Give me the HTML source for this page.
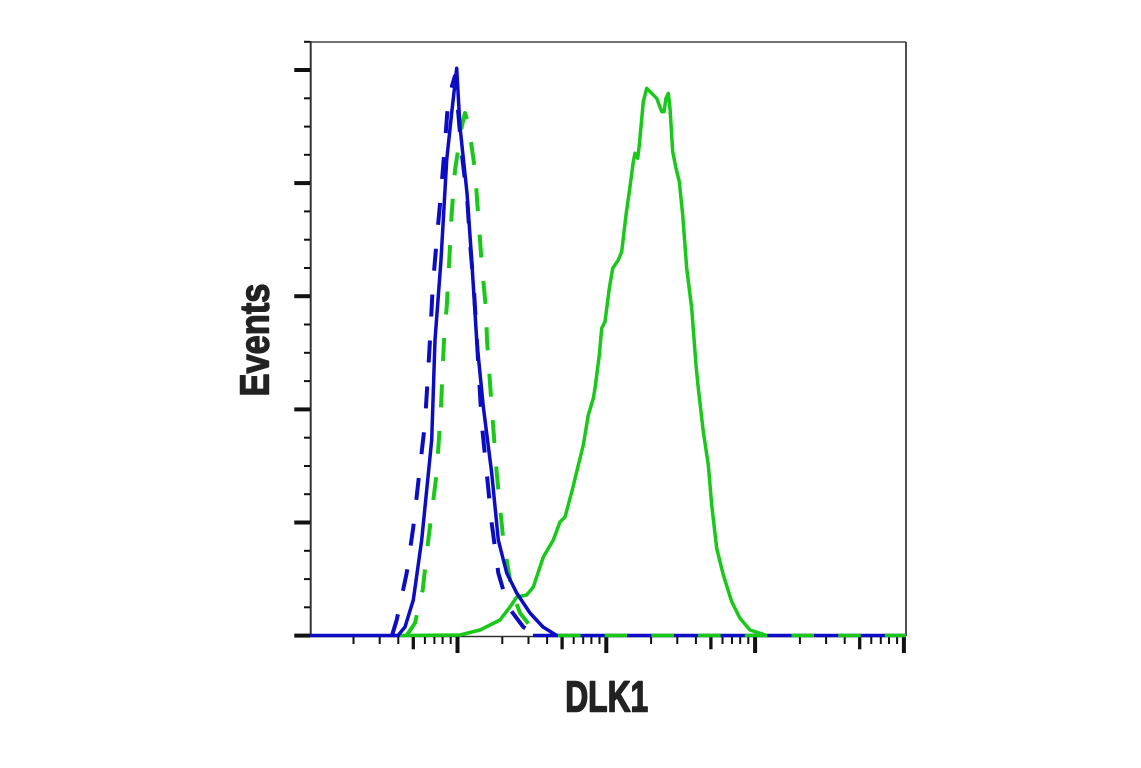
<!DOCTYPE html>
<html>
<head>
<meta charset="utf-8">
<style>
  html, body { margin: 0; padding: 0; background: #ffffff; }
  svg { display: block; }
</style>
</head>
<body>
<svg width="1141" height="768" viewBox="0 0 1141 768" xmlns="http://www.w3.org/2000/svg">
  <rect width="1141" height="768" fill="#ffffff"/>

  <!-- frame -->
  <line x1="310" y1="42" x2="906" y2="42" stroke="#222" stroke-width="1.3"/>
  <line x1="906" y1="42" x2="906" y2="636" stroke="#222" stroke-width="1.6"/>
  <line x1="310.7" y1="41" x2="310.7" y2="637" stroke="#333" stroke-width="2"/>
  <line x1="310" y1="636.5" x2="906" y2="636.5" stroke="#333" stroke-width="1.5"/>

  <!-- y ticks -->
  <g stroke="#111">
    <g stroke-width="4">
      <line x1="294.3" y1="70" x2="310" y2="70"/>
      <line x1="294.3" y1="183.1" x2="310" y2="183.1"/>
      <line x1="294.3" y1="296.2" x2="310" y2="296.2"/>
      <line x1="294.3" y1="409.4" x2="310" y2="409.4"/>
      <line x1="294.3" y1="522.5" x2="310" y2="522.5"/>
      <line x1="294.3" y1="635.6" x2="310" y2="635.6"/>
    </g>
    <g stroke-width="2">
      <line x1="304" y1="41.8" x2="310" y2="41.8"/>
      <line x1="304" y1="98.3" x2="310" y2="98.3"/>
      <line x1="304" y1="126.6" x2="310" y2="126.6"/>
      <line x1="304" y1="154.8" x2="310" y2="154.8"/>
      <line x1="304" y1="211.4" x2="310" y2="211.4"/>
      <line x1="304" y1="239.7" x2="310" y2="239.7"/>
      <line x1="304" y1="268" x2="310" y2="268"/>
      <line x1="304" y1="324.5" x2="310" y2="324.5"/>
      <line x1="304" y1="352.8" x2="310" y2="352.8"/>
      <line x1="304" y1="381.1" x2="310" y2="381.1"/>
      <line x1="304" y1="437.7" x2="310" y2="437.7"/>
      <line x1="304" y1="466" x2="310" y2="466"/>
      <line x1="304" y1="494.2" x2="310" y2="494.2"/>
      <line x1="304" y1="550.8" x2="310" y2="550.8"/>
      <line x1="304" y1="579.1" x2="310" y2="579.1"/>
      <line x1="304" y1="607.3" x2="310" y2="607.3"/>
    </g>
  </g>

  <!-- x ticks (log decades) -->
  <g stroke="#111">
    <g stroke-width="4">
      <line x1="457.5" y1="637" x2="457.5" y2="653"/>
      <line x1="606.3" y1="637" x2="606.3" y2="653"/>
      <line x1="755.1" y1="637" x2="755.1" y2="653"/>
      <line x1="903.9" y1="637" x2="903.9" y2="653"/>
    </g>
    <g stroke-width="3.3">
      <line x1="413.3" y1="637" x2="413.3" y2="649.3"/>
      <line x1="562.1" y1="637" x2="562.1" y2="649.3"/>
      <line x1="710.9" y1="637" x2="710.9" y2="649.3"/>
      <line x1="859.7" y1="637" x2="859.7" y2="649.3"/>
    </g>
    <g stroke-width="2">
      <line x1="353.5" y1="637" x2="353.5" y2="644"/>
      <line x1="379.7" y1="637" x2="379.7" y2="644"/>
      <line x1="398.3" y1="637" x2="398.3" y2="644"/>
      <line x1="424.9" y1="637" x2="424.9" y2="644"/>
      <line x1="434.4" y1="637" x2="434.4" y2="644"/>
      <line x1="442.6" y1="637" x2="442.6" y2="644"/>
      <line x1="450.7" y1="637" x2="450.7" y2="644"/>

      <line x1="502.3" y1="637" x2="502.3" y2="644"/>
      <line x1="528.5" y1="637" x2="528.5" y2="644"/>
      <line x1="547.1" y1="637" x2="547.1" y2="644"/>
      <line x1="573.7" y1="637" x2="573.7" y2="644"/>
      <line x1="583.2" y1="637" x2="583.2" y2="644"/>
      <line x1="591.4" y1="637" x2="591.4" y2="644"/>
      <line x1="599.5" y1="637" x2="599.5" y2="644"/>

      <line x1="651.1" y1="637" x2="651.1" y2="644"/>
      <line x1="677.3" y1="637" x2="677.3" y2="644"/>
      <line x1="695.9" y1="637" x2="695.9" y2="644"/>
      <line x1="722.5" y1="637" x2="722.5" y2="644"/>
      <line x1="732" y1="637" x2="732" y2="644"/>
      <line x1="740.2" y1="637" x2="740.2" y2="644"/>
      <line x1="748.3" y1="637" x2="748.3" y2="644"/>

      <line x1="799.9" y1="637" x2="799.9" y2="644"/>
      <line x1="826.1" y1="637" x2="826.1" y2="644"/>
      <line x1="844.7" y1="637" x2="844.7" y2="644"/>
      <line x1="871.3" y1="637" x2="871.3" y2="644"/>
      <line x1="880.8" y1="637" x2="880.8" y2="644"/>
      <line x1="889" y1="637" x2="889" y2="644"/>
      <line x1="897.1" y1="637" x2="897.1" y2="644"/>
    </g>
  </g>

  <!-- green dashed -->
  <polyline fill="none" stroke="#1ac81a" stroke-width="4" stroke-dasharray="23 23.5" stroke-linejoin="round"
    points="406.7,635.5 415,623 422.7,590 428.3,540 436.7,473 441,407 444,340 446.7,307 449.3,260 451.7,213 455,170 461.7,127 465,113 468.3,123 475,170 478.3,217 481.7,263 486,310 487,340 491.7,407 496.7,473 503.3,540 511.7,590 520,613 533.3,630 543,635.5"/>

  <!-- blue dashed -->
  <polyline fill="none" stroke="#0c0cc4" stroke-width="4" stroke-dasharray="22 24" stroke-linejoin="round"
    points="392,635.5 396.7,620 406.7,573 413.3,527 419.3,473 425,423 430,340 432.7,287 436.7,240 441,193 445,143 448,103 452,86 455,76 458,110 461.7,153 467.3,200 470,243 474,290 476.7,337 481.7,423 486.7,473 491.7,523 498.3,573 508.3,607 523.3,627 536.7,635.5"/>

  <!-- baseline alternating dashes (right part) -->
  <line x1="533" y1="635.5" x2="906" y2="635.5" stroke="#0c0cc4" stroke-width="3.5"/>
  <line x1="558" y1="635.5" x2="906" y2="635.5" stroke="#1ac81a" stroke-width="3.5" stroke-dasharray="22.5 24.2"/>

  <!-- green solid (DLK1) -->
  <polyline fill="none" stroke="#1ac81a" stroke-width="3.5" stroke-linejoin="round"
    points="400,635.5 460,635 480,630 500,620 510,607 516.7,597 526.7,595 533.3,587 543.3,557 553.3,540 560,522 565,517 572.7,488.3 576.7,471.7 583.3,445 588.3,415 593.3,398.3 595,388.3 599.3,355 601.7,328.3 605,321.7 609.3,288.3 612.7,268.3 618.3,260 621.7,251.7 626,215 629.3,191.7 633.3,161.7 635,153.3 637.7,158.3 639.3,145 643.3,101.7 646.7,88.3 656.7,98.3 661.7,111.7 664,111.7 666,98.3 668.3,93.3 670,108.3 672.7,151.7 676,168.3 679.3,181.7 682.7,215 686.7,268.3 691.7,308.3 696,365 698.3,388.3 703.3,431.7 708.3,465 711.7,505 716.7,548.3 723.3,575 731.7,601.7 740,618.3 750,630 760,633.3 767,635.5"/>

  <!-- blue solid -->
  <polyline fill="none" stroke="#0c0cc4" stroke-width="3.5" stroke-linejoin="round"
    points="310,635.5 398,635.5 405,627 413.3,600 421.7,540 431.7,440 435,340 441,260 446.7,160 452,110 456.7,68.3 460,127 467,193 471.7,260 476.7,340 483.3,406.7 491.7,473 498.3,540 506.7,573 516.7,593 530,613 543,627 556.7,635.5"/>

  <!-- labels -->
  <text transform="translate(268.3,340) rotate(-90) scale(0.84,1)" x="0" y="0" text-anchor="middle"
        font-family="Liberation Sans, Arial, sans-serif" font-weight="bold" font-size="41" fill="#222"
        stroke="#222" stroke-width="1.4" stroke-linejoin="round">Events</text>
  <text transform="translate(606.7,711.7) scale(0.73,1)" x="0" y="0" text-anchor="middle"
        font-family="Liberation Sans, Arial, sans-serif" font-weight="bold" font-size="43.5" fill="#222"
        stroke="#222" stroke-width="1.6" stroke-linejoin="round">DLK1</text>
</svg>
</body>
</html>
